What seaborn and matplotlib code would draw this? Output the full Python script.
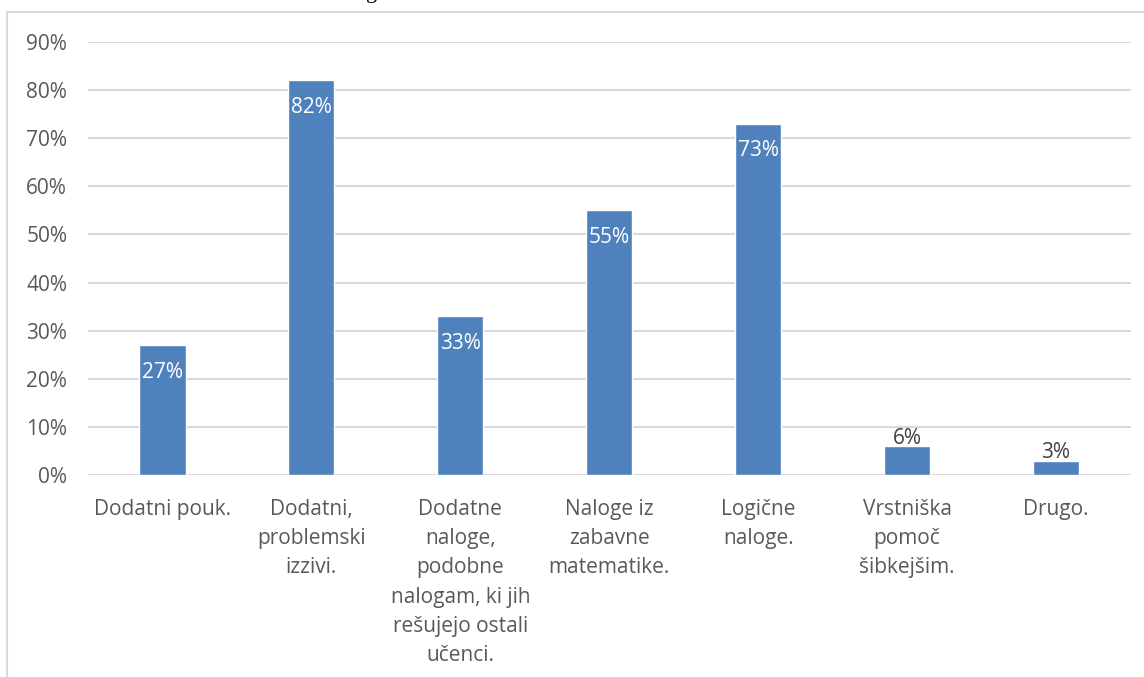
import matplotlib
matplotlib.use("Agg")
import matplotlib.pyplot as plt
from matplotlib.lines import Line2D
from matplotlib.ticker import MultipleLocator, PercentFormatter
import seaborn as sns
import pandas as pd

categories = [
    "Dodatni pouk.",
    "Dodatni,\nproblemski\nizzivi.",
    "Dodatne\nnaloge,\npodobne\nnalogam, ki jih\nrešujejo ostali\nučenci.",
    "Naloge iz\nzabavne\nmatematike.",
    "Logične\nnaloge.",
    "Vrstniška\npomoč\nšibkejšim.",
    "Drugo.",
]
shares = [0.27, 0.82, 0.33, 0.55, 0.73, 0.06, 0.03]
value_labels = ["27%", "82%", "33%", "55%", "73%", "6%", "3%"]

sns.set_theme(style="white")
plt.rcParams["font.family"] = ["Open Sans", "DejaVu Sans"]

BAR = "#4F81BD"
GRID = "#D9D9D9"
TEXT = "#595959"
FS = 15

df = pd.DataFrame({"cat": categories, "share": shares})

fig = plt.figure(figsize=(11.44, 6.77), dpi=100)
ax = fig.add_axes([88 / 1144, 1 - 475 / 677, (1130.5 - 88) / 1144, (475 - 42) / 677])

sns.barplot(data=df, x="cat", y="share", color=BAR, width=0.31,
            saturation=1, ax=ax, zorder=3)

ax.set_ylim(0, 0.9)
ax.set_xlim(-0.5, len(categories) - 0.5)
ax.yaxis.set_major_locator(MultipleLocator(0.1))
ax.yaxis.set_major_formatter(PercentFormatter(1.0, decimals=0))
ax.grid(axis="y", color=GRID, linewidth=1.5, zorder=0)
ax.set_axisbelow(True)
for s in ax.spines.values():
    s.set_visible(False)
ax.set_xlabel("")
ax.set_ylabel("")
ax.tick_params(axis="y", length=0, pad=15, labelsize=FS, labelcolor=TEXT)
ax.tick_params(axis="x", length=0, pad=17, labelsize=FS, labelcolor=TEXT)
for lab in ax.get_xticklabels():
    lab.set_linespacing(1.52)
    lab.set_horizontalalignment("center")

# value labels: inside the bar end, or just above short bars
for i, (v, txt) in enumerate(zip(shares, value_labels)):
    if v >= 0.1:
        ax.annotate(txt, (i, v), xytext=(0, -19.5), textcoords="offset points",
                    ha="center", va="center", color="white", fontsize=FS, zorder=4)
    else:
        ax.annotate(txt, (i, v), xytext=(0, 5.5), textcoords="offset points",
                    ha="center", va="center", color="#404040", fontsize=FS, zorder=4)

# chart frame: top and left edges, the rest runs off the page
top_y = 1 - 12 / 677
left_x = 6.5 / 1144
fig.add_artist(Line2D([left_x, 1.05], [top_y, top_y], transform=fig.transFigure,
                      color=GRID, linewidth=1.5))
fig.add_artist(Line2D([left_x, left_x], [-0.05, top_y], transform=fig.transFigure,
                      color=GRID, linewidth=1.5))

# caption fragment above the frame
fig.text(372 / 1144, 1 + 2 / 677, "g", family="Liberation Serif", fontsize=16,
         ha="center", va="baseline", color="black")

fig.savefig("out.png", dpi=100)
